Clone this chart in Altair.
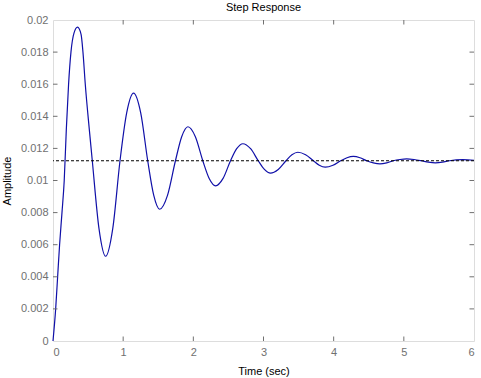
import altair as alt
import pandas as pd

# Step response curve (time in sec, amplitude)
t_vals = [0.0, 0.038, 0.066, 0.094, 0.128, 0.160, 0.190, 0.222, 0.256, 0.300, 0.350,
          0.400, 0.427, 0.460, 0.517, 0.560, 0.655, 0.750, 0.852, 0.955,
          1.050, 1.148, 1.250, 1.350, 1.435, 1.520, 1.633, 1.745,
          1.834, 1.923, 2.029, 2.135, 2.226, 2.317, 2.424, 2.530,
          2.618, 2.706, 2.816, 2.925, 3.013, 3.100, 3.210, 3.320,
          3.405, 3.490, 3.600, 3.710, 3.795, 3.880, 3.990, 4.100,
          4.190, 4.280, 4.375, 4.470, 4.565, 4.660, 4.755, 4.850,
          4.945, 5.040, 5.145, 5.250, 5.350, 5.450, 5.550, 5.650,
          5.840, 6.000]
y_vals = [0.0, 0.0020, 0.0040, 0.0060, 0.0080, 0.0100, 0.0132, 0.0160, 0.0180, 0.0192, 0.01955,
          0.0191, 0.0180, 0.0160, 0.0132, 0.01123, 0.00702, 0.00528, 0.00702, 0.01123,
          0.01421, 0.01544, 0.01421, 0.01123, 0.00909, 0.00821, 0.00909, 0.01123,
          0.01273, 0.01335, 0.01273, 0.01123, 0.01013, 0.00967, 0.01013, 0.01123,
          0.01198, 0.01229, 0.01198, 0.01123, 0.01069, 0.01046, 0.01069, 0.01123,
          0.01160, 0.01176, 0.01160, 0.01123, 0.01095, 0.01083, 0.01095, 0.01123,
          0.01142, 0.01150, 0.01142, 0.01123, 0.01110, 0.01104, 0.01110, 0.01123,
          0.01131, 0.01135, 0.01131, 0.01123, 0.01114, 0.01110, 0.01114, 0.01123,
          0.01130, 0.01126]
final_value = [0.01123]

x_ticks = [0, 1, 2, 3, 4, 5, 6]
y_ticks = [0, 0.002, 0.004, 0.006, 0.008, 0.01, 0.012, 0.014, 0.016, 0.018, 0.02]
x_inner = [1, 2, 3, 4, 5]
y_inner = [0.002, 0.004, 0.006, 0.008, 0.01, 0.012, 0.014, 0.016, 0.018]

W, H = 421, 321
FONT = "Arial, Liberation Sans, sans-serif"
GRAY = "#707070"
TL = 4.5

df = pd.DataFrame({"t": t_vals, "y": y_vals})
xs = alt.Scale(domain=[0, 6], nice=False, zero=False)
ys = alt.Scale(domain=[0, 0.02], nice=False)

x_axis = alt.Axis(values=x_ticks, title="Time (sec)", tickSize=0, domain=False, grid=False,
                  labelFont=FONT, labelFontSize=11, labelColor=GRAY, labelPadding=5,
                  titleFont=FONT, titleFontSize=11, titleFontWeight="normal",
                  titleColor="black", titlePadding=8)
y_axis = alt.Axis(values=y_ticks, format="~g", title="Amplitude", tickSize=0, domain=False,
                  grid=False, labelFont=FONT, labelFontSize=11, labelColor=GRAY,
                  labelPadding=5, titleFont=FONT, titleFontSize=11,
                  titleFontWeight="normal", titleColor="black", titlePadding=8)

line = alt.Chart(df).mark_line(color="#1010a8", strokeWidth=1.2, interpolate="monotone").encode(
    x=alt.X("t:Q", scale=xs, axis=x_axis),
    y=alt.Y("y:Q", scale=ys, axis=y_axis),
)

fv = alt.Chart(pd.DataFrame({"f": final_value})).mark_rule(
    color="black", strokeDash=[3, 2], strokeWidth=1).encode(
    y=alt.Y("f:Q", scale=ys, axis=y_axis))

xi = pd.DataFrame({"x": x_inner})
yi = pd.DataFrame({"y": y_inner})
tick_style = dict(color=GRAY, strokeWidth=1)
bt = alt.Chart(xi).mark_rule(**tick_style).encode(
    x=alt.X("x:Q", scale=xs, axis=x_axis), y=alt.value(H), y2=alt.value(H - TL))
tt = alt.Chart(xi).mark_rule(**tick_style).encode(
    x=alt.X("x:Q", scale=xs, axis=x_axis), y=alt.value(0), y2=alt.value(TL))
lt = alt.Chart(yi).mark_rule(**tick_style).encode(
    y=alt.Y("y:Q", scale=ys, axis=y_axis), x=alt.value(0), x2=alt.value(TL))
rt = alt.Chart(yi).mark_rule(**tick_style).encode(
    y=alt.Y("y:Q", scale=ys, axis=y_axis), x=alt.value(W), x2=alt.value(W - TL))

chart = alt.layer(line, fv, bt, tt, lt, rt).properties(
    width=W, height=H,
    title=alt.TitleParams("Step Response", font=FONT, fontSize=11, fontWeight="normal",
                          color="black", anchor="middle", offset=1),
    autosize=alt.AutoSizeParams(type="none"),
    padding={"left": 53, "top": 20, "right": 7, "bottom": 37},
).configure_view(stroke="#808080", strokeWidth=1).configure(background="white")

chart.save("out.html", embed_options={"renderer": "svg", "actions": False})
